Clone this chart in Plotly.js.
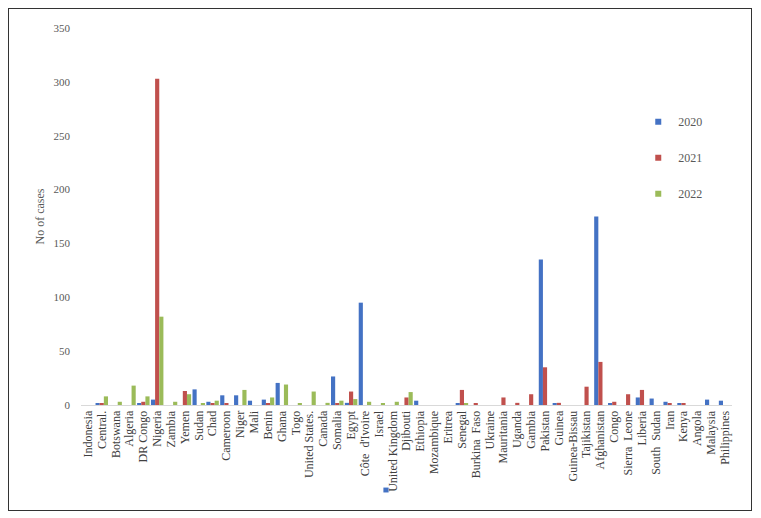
<!DOCTYPE html>
<html>
<head>
<meta charset="utf-8">
<script src="https://cdn.plot.ly/plotly-3.0.1.min.js"></script>
<style>
  body { margin: 0; background: #fff; }
  #frame { position: absolute; left: 8px; top: 8px; width: 742px; height: 501px; border: 1px solid #333; }
  #myDiv { width: 742px; height: 501px; }
</style>
</head>
<body>
<div id="frame"><div id="myDiv"></div></div>
<script>
// Países (eje X)
const countries = ["Indonesia", "Central.", "Botswana", "Algeria", "DR Congo", "Nigeria", "Zambia", "Yemen",
  "Sudan", "Chad", "Cameroon", "Niger", "Mali", "Benin", "Ghana", "Togo", "United States.", "Canada",
  "Somalia", "Egypt", "Côte  d'Ivoire", "Israel", "United Kingdom", "Djibouti", "Ethiopia", "Mozambique",
  "Eritrea", "Senegal", "Burkina  Faso", "Ukraine", "Mauritania", "Uganda", "Gambia", "Pakistan", "Guinea",
  "Guinea-Bissau", "Tajikistan", "Afghanistan", "Congo", "Sierra  Leone", "Liberia", "South  Sudan", "Iran",
  "Kenya", "Angola", "Malaysia", "Philippines"];

// Número de casos por año
const cases2020 = [0, 1.5, 0, 0, 1, 5, 0, 0, 14.5, 3, 9, 9, 4, 5, 20.5, 0, 0, 0,
  26.5, 2, 95, 0, 0, 0, 4, 0, 0, 1.5, 0, 0, 0, 0, 0, 135, 1,
  0, 0, 175, 1, 0, 7, 6, 3, 1, 0, 5, 4];
const cases2021 = [0, 1, 0, 0, 3, 303, 0, 13, 0, 1, 1, 0, 0, 1, 0, 0, 0, 0,
  1, 12.5, 0, 0, 0, 7, 0, 0, 0, 14, 1, 0, 7, 2, 10, 35, 2,
  0, 17, 40, 3, 10, 14, 0, 1, 1, 0, 0, 0];
const cases2022 = [0, 8, 3, 18, 8, 82, 3, 10, 1, 4, 0, 14, 0, 7, 19, 1.5, 12.5, 2,
  4, 5.5, 3, 1, 3, 12, 0, 0, 0, 1, 0, 0, 0, 0, 0, 0, 0,
  0, 0, 0, 0, 0, 0, 0, 0, 0, 0, 0, 0];

const years = ["2020", "2021", "2022"];
const colors = ["#4472C4", "#C0504D", "#9BBB59"];
const series = [cases2020, cases2021, cases2022];

const font = { family: "Liberation Serif, Times New Roman, serif", size: 11, color: "#595959" };

// Barras (sin leyenda propia)
const bars = series.map((vals, i) => ({
  type: "bar",
  name: years[i],
  x: countries,
  y: vals,
  showlegend: false,
  marker: { color: colors[i] },
}));

// Entradas de leyenda con cuadrito pequeño
const legendItems = years.map((yr, i) => ({
  type: "scatter",
  mode: "markers",
  name: yr,
  x: [null],
  y: [null],
  legendgroup: yr,
  marker: { color: colors[i], symbol: "square", size: 6 },
}));

const layout = {
  width: 742,
  height: 501,
  margin: { l: 72, r: 19, t: 19, b: 105 },
  font: font,
  paper_bgcolor: "#fff",
  plot_bgcolor: "#fff",
  barmode: "group",
  bargap: 0.1,
  bargroupgap: 0,
  showlegend: true,
  legend: {
    x: 0.856, y: 0.79, xanchor: "left", yanchor: "top",
    tracegroupgap: 17, font: { family: font.family, size: 12, color: "#595959" }, itemwidth: 30,
  },
  xaxis: {
    type: "category",
    tickmode: "array",
    tickvals: countries,
    ticktext: countries,
    tickangle: -90,
    tickfont: { family: font.family, size: 12, color: "#404040" },
    showgrid: false,
    showline: true,
    linecolor: "#d9d9d9",
    ticks: "",
    range: [-0.5, countries.length - 0.5],
  },
  yaxis: {
    title: { text: "No of cases", font: { family: font.family, size: 12, color: "#595959" }, standoff: 6 },
    range: [0, 350],
    dtick: 50,
    showgrid: false,
    zeroline: false,
    showline: false,
    ticks: "",
    ticklabelstandoff: 10,
    tickfont: font,
  },
  shapes: [
    // pequeño marcador azul suelto bajo "United Kingdom"
    { type: "rect", xref: "paper", yref: "paper", x0: 0.4645, x1: 0.4725, y0: -0.232, y1: -0.219,
      fillcolor: "#4472C4", line: { width: 0 } },
  ],
};

Plotly.newPlot("myDiv", bars.concat(legendItems), layout, { displayModeBar: false });
</script>
</body>
</html>
